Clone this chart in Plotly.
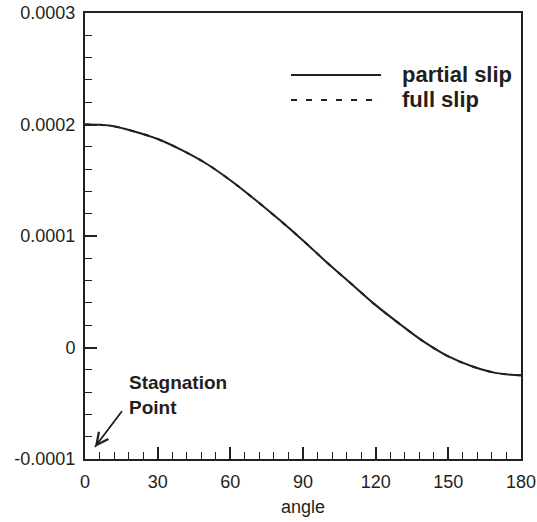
import plotly.graph_objects as go

# Data
angle = [0, 10, 20, 30, 40, 50, 60, 70, 80, 90, 100, 110, 120, 130, 140, 150, 160, 170, 180]
partial_slip = [2.00e-4, 1.99e-4, 1.94e-4, 1.87e-4, 1.77e-4, 1.65e-4, 1.50e-4, 1.33e-4, 1.15e-4,
                0.96e-4, 0.76e-4, 0.57e-4, 0.38e-4, 0.21e-4, 0.05e-4, -0.08e-4, -0.17e-4, -0.23e-4, -0.25e-4]
full_slip = [2.00e-4, 1.99e-4, 1.94e-4, 1.87e-4, 1.77e-4, 1.65e-4, 1.50e-4, 1.33e-4, 1.15e-4,
             0.96e-4, 0.76e-4, 0.57e-4, 0.38e-4, 0.21e-4, 0.05e-4, -0.08e-4, -0.17e-4, -0.23e-4, -0.25e-4]
x_ticks = [0, 30, 60, 90, 120, 150, 180]
y_ticks = [-0.0001, 0, 0.0001, 0.0002, 0.0003]
y_ticklabels = ["-0.0001", "0", "0.0001", "0.0002", "0.0003"]

INK = "#231f20"
FONT = "Liberation Sans, Arial, Helvetica, sans-serif"

fig = go.Figure()
fig.add_trace(go.Scatter(x=angle, y=full_slip, mode="lines", name="full slip",
                         line=dict(color=INK, width=2, dash="5px,10px", shape="spline", smoothing=1.0)))
fig.add_trace(go.Scatter(x=angle, y=partial_slip, mode="lines", name="partial slip",
                         line=dict(color=INK, width=2, shape="spline", smoothing=1.0)))

# Legend drawn manually (long sample lines as in the reference)
leg_x0, leg_x1, leg_tx = 0.4725, 0.679, 0.7225
rows = [(0.861, "partial slip", "solid"), (0.805, "full slip", "6px,9px")]
for yy, label, dash in rows:
    fig.add_shape(type="line", xref="paper", yref="paper", x0=leg_x0, x1=leg_x1, y0=yy, y1=yy,
                  line=dict(color=INK, width=2, dash=dash))
    fig.add_annotation(xref="paper", yref="paper", x=leg_tx, y=yy, text="<b>%s</b>" % label,
                       showarrow=False, xanchor="left", yanchor="middle",
                       font=dict(family=FONT, size=22, color=INK))

# Stagnation point annotation: shaft + arrowhead
tip_x, tip_y = 4.1, -0.0000892
tail_x, tail_y = 15.3, -0.0000570
fig.add_shape(type="line", xref="x", yref="y", x0=tail_x, y0=tail_y, x1=tip_x, y1=tip_y,
              line=dict(color=INK, width=1.5))
fig.add_annotation(x=tip_x, y=tip_y, ax=tail_x, ay=tail_y, xref="x", yref="y", axref="x", ayref="y",
                   text="", showarrow=True, arrowhead=5, arrowsize=1.8, arrowwidth=1.3,
                   arrowcolor=INK)
fig.add_annotation(x=17.3, y=-0.0000422, xref="x", yref="y", text="<b>Stagnation<br>Point</b>",
                   showarrow=False, xanchor="left", yanchor="middle", align="left",
                   font=dict(family=FONT, size=19, color=INK))

axis_common = dict(showline=True, linecolor=INK, linewidth=2, mirror=True, showgrid=False,
                   zeroline=False, ticks="inside", tickcolor=INK, tickwidth=1.5, ticklen=12,
                   automargin=False,
                   tickfont=dict(family=FONT, size=18, color=INK))

fig.update_xaxes(range=[0, 180], tickvals=x_ticks, ticktext=[str(v) for v in x_ticks],
                 ticklabelstandoff=5,
                 minor=dict(ticks="inside", dtick=6, ticklen=7, tickcolor=INK, tickwidth=1),
                 title=dict(text="angle", font=dict(family=FONT, size=18, color=INK), standoff=10),
                 **axis_common)
fig.update_yaxes(range=[-0.0001, 0.0003], tickvals=y_ticks, ticktext=y_ticklabels,
                 ticklabelstandoff=4,
                 minor=dict(ticks="inside", dtick=0.00002, tick0=0, ticklen=7, tickcolor=INK, tickwidth=1),
                 **axis_common)

fig.update_layout(width=537, height=522, margin=dict(l=85, r=16, t=13, b=63),
                  paper_bgcolor="white", plot_bgcolor="white", showlegend=False,
                  font=dict(family=FONT, color=INK))

fig.write_html("out.html", config={"displayModeBar": False},
               post_script="document.body.style.margin='0';document.body.style.overflow='hidden';")
